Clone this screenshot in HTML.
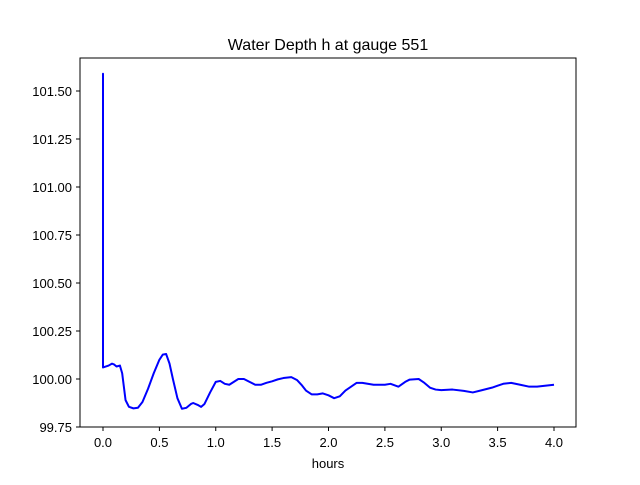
<!DOCTYPE html>
<html><head><meta charset="utf-8"><style>
body{margin:0;background:#fff}
text{font-family:"Liberation Sans","DejaVu Sans",sans-serif;font-size:13px;fill:#000}
</style></head><body>
<svg width="640" height="480" viewBox="0 0 640 480" xmlns="http://www.w3.org/2000/svg">
<rect width="640" height="480" fill="#fff"/>
<g transform="translate(103,379) scale(112.75,-192)">
<polyline fill="none" stroke="#0000ff" stroke-width="2" vector-effect="non-scaling-stroke" stroke-linejoin="round"
points="0,0.06 0,1.59 0,0.06 0.05,0.07 0.08,0.08 0.1,0.075 0.12,0.065 0.15,0.07 0.17,0.03 0.2,-0.11 0.23,-0.145 0.27,-0.153 0.31,-0.15 0.35,-0.12 0.4,-0.05 0.45,0.03 0.5,0.1 0.53,0.127 0.56,0.13 0.59,0.08 0.62,0.0 0.66,-0.1 0.7,-0.155 0.74,-0.15 0.78,-0.13 0.8,-0.125 0.84,-0.135 0.87,-0.145 0.9,-0.13 0.95,-0.07 1.0,-0.015 1.04,-0.01 1.08,-0.025 1.12,-0.03 1.16,-0.015 1.2,0.0 1.25,0.0 1.3,-0.015 1.35,-0.03 1.4,-0.03 1.45,-0.02 1.5,-0.012 1.55,-0.002 1.6,0.005 1.67,0.01 1.72,-0.005 1.76,-0.03 1.8,-0.06 1.85,-0.08 1.9,-0.08 1.95,-0.075 2.0,-0.085 2.05,-0.1 2.1,-0.09 2.15,-0.06 2.2,-0.04 2.25,-0.02 2.3,-0.02 2.4,-0.03 2.5,-0.03 2.55,-0.025 2.62,-0.04 2.68,-0.015 2.72,-0.003 2.8,0.0 2.85,-0.02 2.9,-0.045 2.95,-0.055 3.0,-0.058 3.1,-0.055 3.2,-0.062 3.28,-0.07 3.35,-0.06 3.45,-0.045 3.5,-0.035 3.55,-0.025 3.62,-0.02 3.7,-0.03 3.78,-0.04 3.85,-0.04 3.92,-0.035 4.0,-0.03"/>
</g>
<rect x="80" y="58" width="496" height="369" fill="none" stroke="#000" stroke-width="1"/>
<g stroke="#000">
<line x1="103" y1="427" x2="103" y2="431"/><line x1="159.4" y1="427" x2="159.4" y2="431"/>
<line x1="215.75" y1="427" x2="215.75" y2="431"/><line x1="272.1" y1="427" x2="272.1" y2="431"/>
<line x1="328.5" y1="427" x2="328.5" y2="431"/><line x1="384.9" y1="427" x2="384.9" y2="431"/>
<line x1="441.25" y1="427" x2="441.25" y2="431"/><line x1="497.6" y1="427" x2="497.6" y2="431"/>
<line x1="554" y1="427" x2="554" y2="431"/>
<line x1="76" y1="427" x2="80" y2="427"/><line x1="76" y1="379" x2="80" y2="379"/>
<line x1="76" y1="331" x2="80" y2="331"/><line x1="76" y1="283" x2="80" y2="283"/>
<line x1="76" y1="235" x2="80" y2="235"/><line x1="76" y1="187" x2="80" y2="187"/>
<line x1="76" y1="139" x2="80" y2="139"/><line x1="76" y1="91" x2="80" y2="91"/>
</g>
<g text-anchor="middle">
<text x="103" y="447">0.0</text><text x="159.4" y="447">0.5</text><text x="215.75" y="447">1.0</text>
<text x="272.1" y="447">1.5</text><text x="328.5" y="447">2.0</text><text x="384.9" y="447">2.5</text>
<text x="441.25" y="447">3.0</text><text x="497.6" y="447">3.5</text><text x="554" y="447">4.0</text>
<text x="328" y="468">hours</text>
<text x="328" y="50" style="font-size:16px">Water Depth h at gauge 551</text>
</g>
<g text-anchor="end">
<text x="72" y="432">99.75</text><text x="72" y="384">100.00</text><text x="72" y="336">100.25</text>
<text x="72" y="288">100.50</text><text x="72" y="240">100.75</text><text x="72" y="192">101.00</text>
<text x="72" y="144">101.25</text><text x="72" y="96">101.50</text>
</g>
</svg>
</body></html>
